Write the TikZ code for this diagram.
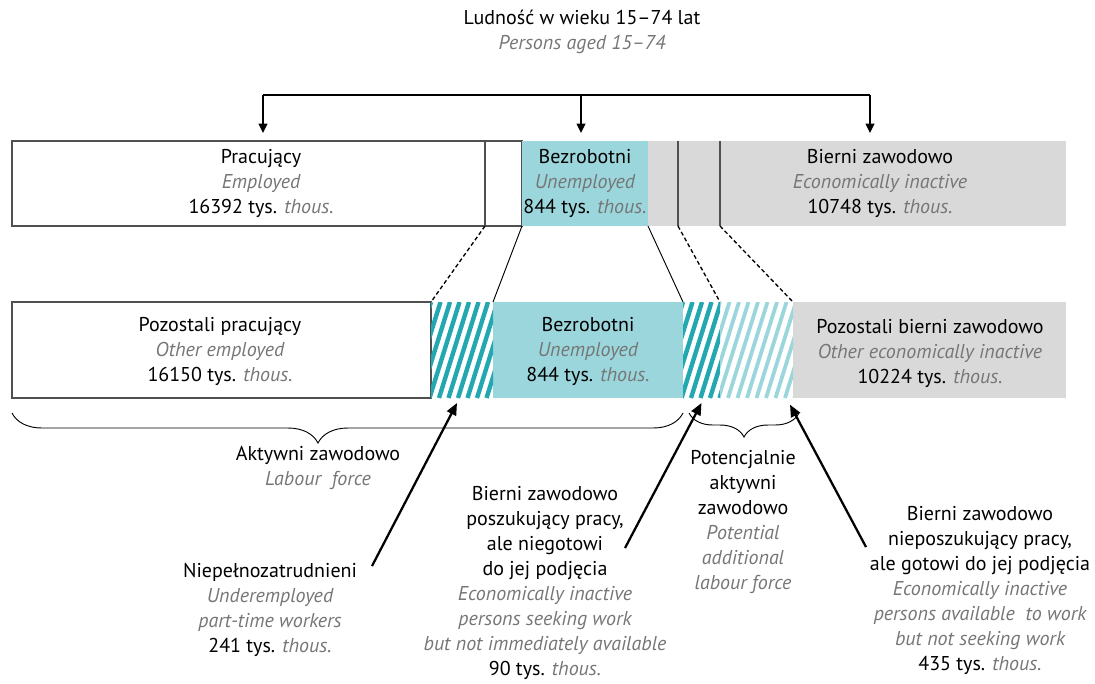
\documentclass[tikz,border=0pt]{standalone}
\usepackage{fontspec}
\setmainfont{PT Sans}
\usetikzlibrary{arrows.meta,positioning,calc,decorations.pathreplacing}
\definecolor{unemcolor}{RGB}{155,214,220}
\definecolor{hatchcolor}{RGB}{35,168,178}
\definecolor{inactcolor}{RGB}{217,217,217}
\definecolor{engcolor}{RGB}{118,118,118}
\definecolor{boxcolor}{RGB}{80,80,80}
\newcommand{\px}{0.75pt}
\tikzset{
  boxnd/.style={rectangle, inner sep=0pt, outer sep=0pt, anchor=north west},
  txt/.style={align=center, inner sep=0pt, font=\fontsize{15}{18.75}\selectfont},
  topln/.style={-{Triangle[length=7pt,width=6.5pt]}, line width=1.1pt},
  pointln/.style={-{Triangle[length=9pt,width=7.5pt]}, line width=1.7pt},
  linkln/.style={line width=0.7pt},
  dashln/.style={dash pattern=on 3pt off 2pt, line width=1pt},
  bracln/.style={decorate, line width=0.7pt},
}
\newcommand{\en}[1]{{\color{engcolor}\itshape #1}}
% stripes inside a node: node, colour, stripe width
\newcommand{\hatchfill}[3]{%
  \begin{scope}
    \clip (#1.south west) rectangle (#1.north east);
    \foreach \k in {0,...,12}
      \draw[#2, line width=#3*\px] ($(#1.south west)+(\k*9.5-30,0)$) -- ++(30,-96);
  \end{scope}
}

\begin{document}
\begin{tikzpicture}[x=0.75pt, y=-0.75pt]
  \useasboundingbox (0,0) rectangle (1095,683);
  % Title
  \node[txt] (title) at (582,32) {Ludność w wieku 15--74 lat\\ \en{Persons aged 15--74}};
  % Top row
  \node[boxnd, draw=boxcolor, line width=0.8pt, minimum width=510*\px, minimum height=85*\px] (emp) at (12,141) {};
  \node[boxnd, fill=unemcolor, minimum width=126*\px, minimum height=85*\px] (unem) at (522,141) {};
  \node[boxnd, fill=inactcolor, minimum width=418*\px, minimum height=85*\px] (inact) at (648,141) {};
  \coordinate (empcut) at (485,141);
  \coordinate (inactcutA) at (678,141);
  \coordinate (inactcutB) at (720,141);
  \draw[boxcolor, line width=0.8pt] (empcut) -- (empcut |- emp.south);
  \draw[boxcolor, line width=0.8pt] (inactcutA) -- (inactcutA |- inact.south);
  \draw[boxcolor, line width=0.8pt] (inactcutB) -- (inactcutB |- inact.south);
  \node[txt] (emptxt) at (261,183) {Pracujący\\ \en{Employed}\\ 16392 tys. \en{thous.}};
  \node[txt] (unemtxt) at (585,183) {Bezrobotni\\ \en{Unemployed}\\ 844 tys. \en{thous.}};
  \node[txt] (inacttxt) at (880,183) {Bierni zawodowo\\ \en{Economically inactive}\\ 10748 tys. \en{thous.}};
  % Bar with arrows
  \coordinate (barL) at (263,95);
  \coordinate (barM) at (581,95);
  \coordinate (barR) at (870,95);
  \draw[line width=1.1pt] (barL) -- (barR);
  \draw[topln] (barL) -- ([yshift=6pt]barL |- emp.north);
  \draw[topln] (barM) -- ([yshift=6pt]barM |- unem.north);
  \draw[topln] (barR) -- ([yshift=6pt]barR |- inact.north);
  % Bottom row
  \node[boxnd, draw=boxcolor, line width=0.8pt, minimum width=419*\px, minimum height=96*\px] (othemp) at (12,302) {};
  \node[boxnd, minimum width=62*\px, minimum height=96*\px] (under) at (431,302) {};
  \node[boxnd, fill=unemcolor, minimum width=190*\px, minimum height=96*\px] (unem2) at (493,302) {};
  \node[boxnd, minimum width=37*\px, minimum height=96*\px] (seek) at (683,302) {};
  \node[boxnd, minimum width=73*\px, minimum height=96*\px] (avail) at (720,302) {};
  \node[boxnd, fill=inactcolor, minimum width=273*\px, minimum height=96*\px] (othinact) at (793,302) {};
  \hatchfill{under}{hatchcolor}{4.4}
  \hatchfill{seek}{hatchcolor}{4.4}
  \hatchfill{avail}{unemcolor}{3.8}
  \node[txt] (othemptxt) at (220,351) {Pozostali pracujący\\ \en{Other employed}\\ 16150 tys. \en{thous.}};
  \node[txt] (unem2txt) at (588,351) {Bezrobotni\\ \en{Unemployed}\\ 844 tys. \en{thous.}};
  \node[txt] (othinacttxt) at (930,353) {Pozostali bierni zawodowo\\ \en{Other economically inactive}\\ 10224 tys. \en{thous.}};
  % Links between rows
  \draw[dashln] (empcut |- emp.south) -- (under.north west);
  \draw[linkln] (unem.south west) -- (unem2.north west);
  \draw[linkln] (unem.south east) -- (unem2.north east);
  \draw[dashln] (inactcutA |- inact.south) -- (seek.north east);
  \draw[dashln] (inactcutB |- inact.south) -- (avail.north east);
  % Braces
  \draw[bracln, decoration={brace, amplitude=22.5pt, aspect=0.544}]
    ([yshift=-11.25pt]unem2.south east) -- ([yshift=-11.25pt]othemp.south west);
  \draw[bracln, decoration={brace, amplitude=18pt, aspect=0.5}]
    ([xshift=4.5pt, yshift=-11.25pt]avail.south east) -- ([xshift=4.5pt, yshift=-11.25pt]seek.south west);
  \node[txt] (activetxt) at (318,468) {Aktywni zawodowo\\ \en{Labour\ \ force}};
  \node[txt] (potentxt) at (743,522) {Potencjalnie\\ aktywni\\ zawodowo\\ \en{Potential}\\ \en{additional}\\ \en{labour force}};
  % Groups below
  \node[txt] (undertxt) at (270,610) {Niepełnozatrudnieni\\ \en{Underemployed}\\ \en{part-time workers}\\ 241 tys. \en{thous.}};
  \node[txt] (seektxt) at (545,583) {Bierni zawodowo\\ poszukujący pracy,\\ ale niegotowi\\ do jej podjęcia\\ \en{Economically inactive}\\ \en{persons seeking work}\\ \en{but not immediately available}\\ 90 tys. \en{thous.}};
  \node[txt] (availtxt) at (980,590) {Bierni zawodowo\\ nieposzukujący pracy,\\ ale gotowi do jej podjęcia\\ \en{Economically inactive}\\ \en{persons available\ \ to work}\\ \en{but not seeking work}\\ 435 tys. \en{thous.}};
  \coordinate (underfoot) at (372,566);
  \coordinate (seekfoot) at (625,548);
  \coordinate (availfoot) at (866,547);
  \draw[pointln] (underfoot) -- ([xshift=-3.75pt, yshift=-3.75pt]under.south);
  \draw[pointln] (seekfoot) -- ([yshift=-3.75pt]seek.south);
  \draw[pointln] (availfoot) -- ([xshift=-2.25pt, yshift=-5pt]avail.south east);
\end{tikzpicture}
\end{document}
